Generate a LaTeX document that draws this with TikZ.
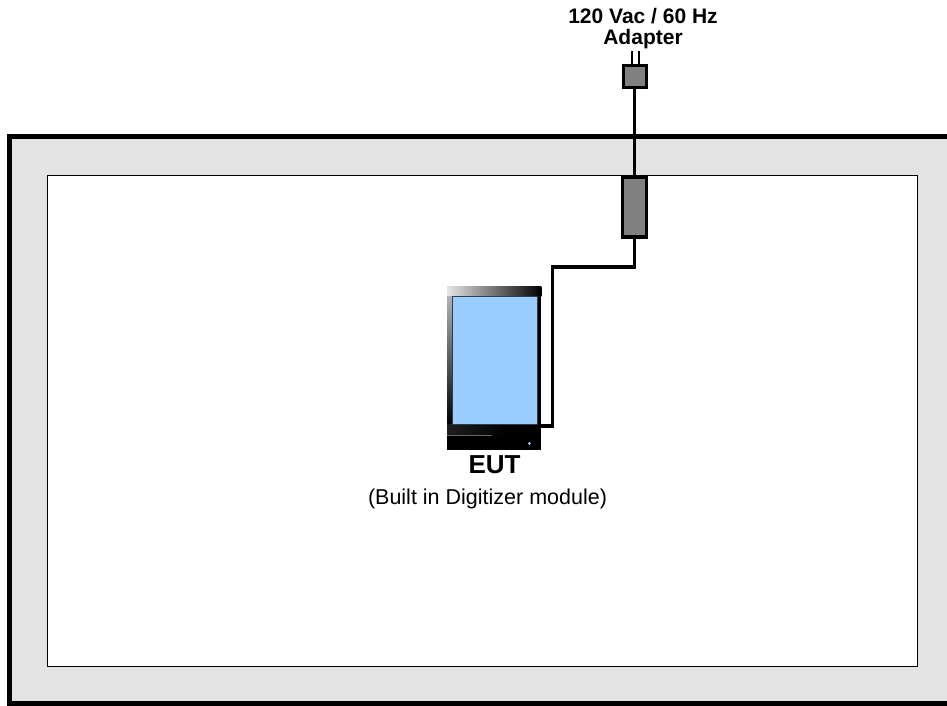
\documentclass[tikz,border=0pt]{standalone}
\usepackage{fontspec}
\setmainfont{Liberation Sans}
\usetikzlibrary{positioning}
\usetikzlibrary{calc}
\definecolor{framegray}{HTML}{E3E3E3}
\definecolor{sleevegray}{HTML}{808080}
\definecolor{screenblue}{HTML}{99CCFF}
\tikzset{
    box/.style={draw=black,line width=3.6pt,fill=sleevegray,inner sep=0pt},
    cable/.style={draw=black,line width=3.6pt},
    caption/.style={inner sep=0pt,align=center},
}

\begin{document}
\begin{tikzpicture}[x=1pt,y=-1pt]
    \path[use as bounding box,fill=white] (0,0) rectangle (947,705);

    % room
    \path[fill=framegray] (9.5,137) rectangle (947,703);
    \draw[line width=5pt] (947,136.5) -- (9.5,136.5) -- (9.5,703.5) -- (947,703.5);
    \node [draw,line width=1.2pt,fill=white,minimum width=870pt,minimum height=491pt,inner sep=0pt,anchor=north west] (room) at (46.7,174.7) {};

    % adapter
    \node [box,minimum width=23pt,minimum height=22pt,anchor=north] (adapter) at (635,63.5) {};
    \coordinate (prongl) at ($(adapter.north)+(-3,-13)$);
    \coordinate (prongr) at ($(adapter.north)+(3.5,-13)$);
    \draw[line width=2pt] (prongl) -- (prongl |- adapter.north);
    \draw[line width=2pt] (prongr) -- (prongr |- adapter.north);

    % sleeve
    \node [box,minimum width=24pt,minimum height=60pt,anchor=north] (sleeve) at (634.5,175) {};

    % EUT
    \node [fill=black,minimum width=94pt,minimum height=164pt,inner sep=0pt,anchor=north west] (eut) at (447,286) {};
    \shade[left color=black!10,right color=black] (eut.north west) rectangle ($(eut.north east)+(0,10)$);
    \shade[top color=black!30,bottom color=black] ($(eut.north west)+(0,10)$) rectangle ($(eut.north west)+(5,138)$);
    \shade[left color=black!88,right color=black] ($(eut.north west)+(0,138)$) rectangle ($(eut.north west)+(60,148)$);
    \draw[black!60,line width=0.4pt] ($(eut.north west)+(0,149)$) -- ($(eut.north west)+(45,149)$);
    \node [draw=black!70!screenblue,line width=0.6pt,fill=screenblue,minimum width=85pt,minimum height=128pt,inner sep=0pt,anchor=north west] (screen) at ($(eut.north west)+(5,10)$) {};
    \node [fill=screenblue,circle,minimum size=3pt,inner sep=0pt] (led) at ($(eut.south east)+(-12,-7)$) {};

    % cables
    \coordinate (bendr) at (634.5,267);
    \coordinate (bendl) at (552.5,267);
    \coordinate (eutin) at (541,426);
    \draw[cable] (adapter.south -| sleeve.south) -- (sleeve.north);
    \draw[cable,line join=miter] (sleeve.south) -- (bendr) -- (bendl) -- (bendl |- eutin) -- (eutin);

    % labels
    \node [caption,font=\bfseries\fontsize{21}{21}\selectfont] (adaptertext) at (643,28.5) {120 Vac / 60 Hz\\Adapter};
    \node [caption,font=\bfseries\fontsize{26}{26}\selectfont] (euttext) at (494.5,465) {EUT};
    \node [caption,font=\fontsize{21.5}{24}\selectfont] (euttext2) at (487.5,499) {(Built in Digitizer module)};
\end{tikzpicture}
\end{document}
